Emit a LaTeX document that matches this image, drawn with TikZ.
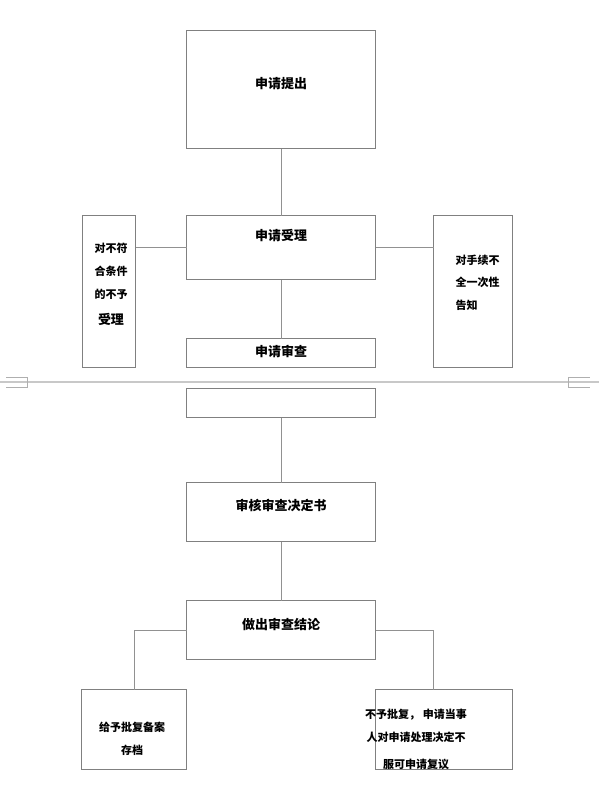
\documentclass[tikz,border=0pt]{standalone}
\usepackage{fontspec}
\newfontfamily\cjk{Noto Sans CJK SC}
\usetikzlibrary{positioning}
\definecolor{boxgray}{RGB}{128,128,128}
\definecolor{linkgray}{RGB}{145,145,145}
\definecolor{rulegray}{RGB}{200,200,200}
\definecolor{tickgray}{RGB}{175,175,175}
\tikzstyle{stage} = [rectangle, draw=boxgray, line width=0.75pt, minimum width=141.75pt, inner sep=0pt, outer sep=0pt]
\tikzstyle{sidebox} = [rectangle, draw=boxgray, line width=0.75pt, minimum height=114pt, inner sep=0pt, outer sep=0pt]
\tikzstyle{caption} = [font=\cjk\bfseries\fontsize{9.75pt}{12pt}\selectfont]
\tikzstyle{note} = [font=\cjk\bfseries\fontsize{8.25pt}{17pt}\selectfont, align=center]
\tikzstyle{link} = [draw=linkgray, line width=0.75pt]
\tikzstyle{cutline} = [draw=rulegray, line width=1.5pt]
\tikzstyle{cutmark} = [draw=tickgray, line width=0.75pt]

\begin{document}
\begin{tikzpicture}[x=0.75pt, y=-0.75pt]
        \useasboundingbox (0,0) rectangle (599,794);
        \node (submit) [stage, minimum height=88.5pt, anchor=north west, label={[caption, yshift=4.5pt]center:申请提出}] at (186.5,30.5) {};
        \node (accept) [stage, minimum height=48pt, below=50.25pt of submit, label={[caption, yshift=9pt]center:申请受理}] {};
        \node (review) [stage, minimum height=21.75pt, below=44.25pt of accept, label={[caption, yshift=1pt]center:申请审查}] {};
        \node (blank) [stage, minimum height=21.75pt, below=15.75pt of review] {};
        \node (decision) [stage, minimum height=44.25pt, below=48.75pt of blank, label={[caption, yshift=4.9pt]center:审核审查决定书}] {};
        \node (conclusion) [stage, minimum height=44.25pt, below=44.25pt of decision, label={[caption, yshift=4pt]center:做出审查结论}] {};
        \node (reject) [sidebox, minimum width=39.75pt, left=38.25pt of accept.north west, anchor=north east, label={[note, xshift=1.5pt, yshift=5.25pt]center:对不符\\合条件\\的不予\\[3pt]{\fontsize{9.75pt}{12pt}\selectfont 受理}}] {};
        \node (notify) [sidebox, minimum width=59.25pt, right=43.5pt of accept.north east, anchor=north west, label={[note, align=left, xshift=3.4pt, yshift=6.75pt]center:对手续不\\全一次性\\告知}] {};
        \node (approve) [stage, minimum width=78.75pt, minimum height=60pt, below=22.5pt of conclusion.south west, anchor=north east, label={[note, xshift=-1.5pt, yshift=-6.75pt]center:给予批复备案\\存档}] {};
        \node (appeal) [stage, minimum width=102.75pt, minimum height=60pt, below=22.5pt of conclusion.south east, anchor=north west, label={[note, xshift=-21pt, yshift=-7.5pt]center:不予批复， 申请当事\\人对申请处理决定不\\[3pt]服可申请复议}] {};

        \coordinate (cut) at ([yshift=-11pt]review.south);
        \coordinate (leftedge) at (0,0);
        \coordinate (rightedge) at (599,0);

        \draw [link] (submit) -- (accept);
        \draw [link] (accept) -- (review);
        \draw [link] (blank) -- (decision);
        \draw [link] (decision) -- (conclusion);
        \draw [link] (accept.west) -- (reject.east |- accept.west);
        \draw [link] (accept.east) -- (notify.west |- accept.east);
        \draw [link] (conclusion.west) -| (approve.north);
        \draw [link] (conclusion.east) -| ([xshift=43.5pt]appeal.north west);

        \draw [cutline] (leftedge |- cut) -- (rightedge |- cut);
        \draw [cutmark] (6,377.5) -- (27,377.5) -- (27,387.5) -- (6,387.5);
        \draw [cutmark] (590,377.5) -- (568,377.5) -- (568,387.5) -- (590,387.5);

        \end{tikzpicture}
\end{document}
